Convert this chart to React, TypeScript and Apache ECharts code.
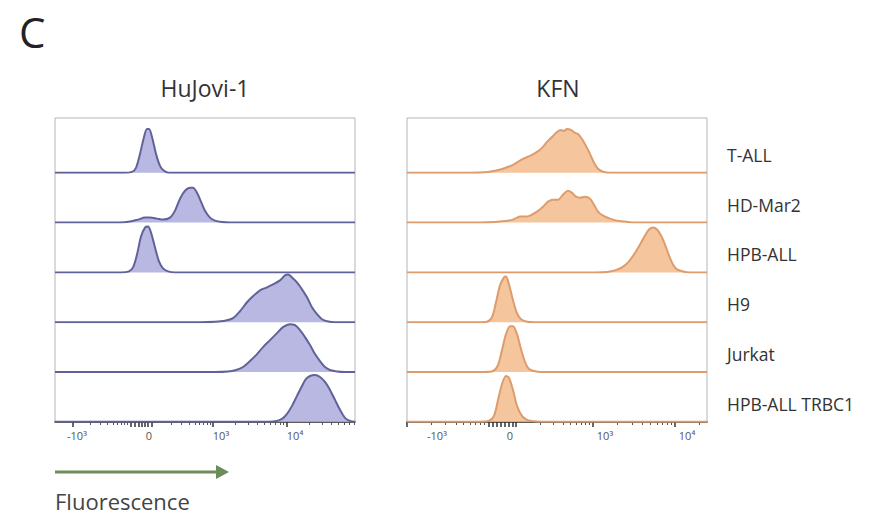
import React, { useEffect, useRef } from 'react';
import * as echarts from 'echarts';

const panelTitles = ['HuJovi-1', 'KFN'];
const rowLabels = ['T-ALL', 'HD-Mar2', 'HPB-ALL', 'H9', 'Jurkat', 'HPB-ALL TRBC1'];
const tickLabels = ['-10³', '0', '10³', '10⁴'];

// display channel units (0–300 across each panel)
const leftLabelPos = [22, 94, 166, 240];
const rightLabelPos = [30, 103, 198, 280];
const leftMajorTicks = [18, 158, 232];
const rightMajorTicks = [0, 186, 268];
const leftZeroTicks = [76, 80, 84, 87, 90, 93, 97];
const rightZeroTicks = [82, 86, 90, 94, 98, 102, 106, 109];
const leftDecades = [[18, 75], [98, 158], [158, 232], [232, 306]];
const rightDecades = [[0, 81], [110, 186], [186, 268], [268, 350]];

// HuJovi-1 histograms [channel, height]
const hjTALL = [[69, 0], [77, 1], [81, 5], [85, 19], [89, 36], [92, 44], [94, 44], [97, 36], [101, 19], [105, 7], [109, 2], [114, 0]];
const hjHDMar2 = [[65, 0], [75, 1], [83, 3], [90, 5], [95, 5], [102, 4], [108, 3], [115, 5], [120, 12], [125, 24], [130, 32], [135, 35], [138, 35], [142, 30], [146, 21], [150, 12], [155, 5], [160, 2], [167, 0.5], [175, 0]];
const hjHPBALL = [[66, 0], [74, 1], [78, 5], [82, 18], [86, 36], [90, 45], [93, 46], [96, 40], [100, 25], [104, 11], [108, 4], [113, 1], [120, 0]];
const hjH9 = [[145, 0], [160, 0.5], [170, 1.5], [178, 4], [185, 11], [192, 20], [199, 27], [205, 32], [212, 35], [218, 38], [225, 42], [230, 47], [233, 48], [237, 45], [242, 40], [247, 33], [252, 25], [257, 15], [262, 8], [267, 3], [272, 1], [280, 0]];
const hjJurkat = [[160, 0], [173, 0.5], [181, 2], [188, 5], [195, 11], [202, 18], [208, 25], [215, 32], [222, 39], [228, 45], [235, 48], [240, 47], [245, 42], [250, 35], [255, 27], [260, 18], [265, 11], [270, 5], [275, 2], [282, 0.5], [290, 0]];
const hjTRBC1 = [[210, 0], [220, 0.5], [227, 3], [232, 8], [237, 16], [242, 26], [247, 36], [251, 43], [255, 46], [260, 47], [265, 45], [270, 40], [275, 32], [280, 22], [285, 12], [290, 4], [295, 1], [300, 0]];

// KFN histograms [channel, height]
const kfTALL = [[63, 0], [78, 0.5], [88, 2], [96, 4], [106, 8], [116, 14], [123, 17], [130, 21], [135, 25], [140, 31], [145, 36], [150, 41], [154, 43], [157, 42], [160, 44], [164, 43], [168, 40], [171, 39], [175, 34], [179, 27], [183, 19], [187, 10], [191, 4], [196, 1], [203, 0]];
const kfHDMar2 = [[73, 0], [88, 0.5], [98, 1.5], [106, 3], [113, 6], [118, 6], [123, 7], [130, 11], [136, 16], [141, 21], [146, 23], [151, 23], [156, 28], [161, 32], [165, 30], [169, 26], [173, 25], [178, 26], [183, 24], [187, 18], [191, 11], [196, 7], [203, 4], [210, 2], [218, 1], [228, 0]];
const kfHPBALL = [[188, 0], [200, 0.5], [208, 2], [215, 5], [221, 10], [227, 18], [233, 28], [238, 37], [242, 43], [246, 45], [250, 43], [254, 37], [258, 28], [262, 17], [266, 8], [270, 3], [276, 1], [283, 0]];
const kfH9 = [[72, 0], [80, 0.5], [85, 5], [89, 20], [93, 37], [97, 45], [99, 46], [102, 38], [106, 22], [110, 9], [114, 3], [120, 0.5], [128, 0]];
const kfJurkat = [[77, 0], [86, 1], [91, 7], [95, 22], [99, 38], [103, 46], [106, 46], [110, 38], [114, 23], [118, 10], [122, 3], [127, 1], [134, 0]];
const kfTRBC1 = [[72, 0], [82, 1], [87, 6], [91, 22], [95, 38], [99, 46], [102, 44], [106, 32], [110, 16], [115, 6], [120, 2], [127, 0.5], [134, 0]];

const hujoviRows = [hjTALL, hjHDMar2, hjHPBALL, hjH9, hjJurkat, hjTRBC1];
const kfnRows = [kfTALL, kfHDMar2, kfHPBALL, kfH9, kfJurkat, kfTRBC1];

const FONT = 'Open Sans';
const panelLeft = [55, 407];
const panelTop = 118;
const panelW = 300;
const panelH = 304;
const rowTop0 = 123;
const rowH = 49.8;
const lineColors = ['#62629a', '#de9c6c'];
const fillColors = ['#b8b8e3', '#f5c59d'];

function decadeTicks(segs: number[][]) {
  const out: number[] = [];
  segs.forEach(([a, b]) => {
    for (let m = 2; m <= 9; m++) {
      const v = a + (b - a) * Math.log10(m);
      if (v >= 0 && v <= 300) out.push(Math.round(v * 10) / 10);
    }
  });
  return out;
}

export default function App() {
  const ref = useRef<HTMLDivElement>(null);
  useEffect(() => {
    if (!ref.current) return;
    const chart = echarts.init(ref.current, undefined, { renderer: 'svg' });
    const grids: any[] = [];
    const xAxes: any[] = [];
    const yAxes: any[] = [];
    const series: any[] = [];
    const labelPos = [leftLabelPos, rightLabelPos];
    const majors = [leftMajorTicks.concat(leftZeroTicks), rightMajorTicks.concat(rightZeroTicks)];
    const minors = [decadeTicks(leftDecades), decadeTicks(rightDecades)];

    for (let p = 0; p < 2; p++) {
      grids.push({ left: panelLeft[p], top: panelTop, width: panelW, height: panelH, show: true, borderColor: '#b5b5b5', borderWidth: 1, backgroundColor: 'transparent' });
    }
    for (let p = 0; p < 2; p++) {
      const lp = labelPos[p];
      xAxes.push({
        gridIndex: p, type: 'value', min: 0, max: 300, position: 'bottom',
        axisLine: { show: true, lineStyle: { color: '#333', width: 1.5 } },
        axisTick: { show: true, customValues: majors[p], length: 5, lineStyle: { color: '#333', width: 1.5 } },
        axisLabel: { show: true, customValues: lp, margin: 8, fontSize: 11, color: '#555', fontFamily: FONT, formatter: (v: number) => tickLabels[lp.indexOf(v)] ?? '' },
        splitLine: { show: false },
      });
      xAxes.push({
        gridIndex: p, type: 'value', min: 0, max: 300, position: 'bottom',
        axisLine: { show: false },
        axisTick: { show: true, customValues: minors[p], length: 3, lineStyle: { color: '#555', width: 1 } },
        axisLabel: { show: false },
        splitLine: { show: false },
      });
      yAxes.push({ gridIndex: p, type: 'value', min: 0, max: 1, show: false });
    }
    const rowsByPanel = [hujoviRows, kfnRows];
    for (let p = 0; p < 2; p++) {
      for (let r = 0; r < 6; r++) {
        const gi = grids.length;
        grids.push({ left: panelLeft[p], top: rowTop0 + r * rowH, width: panelW, height: rowH });
        const xi = xAxes.length;
        xAxes.push({ gridIndex: gi, type: 'value', min: 0, max: 300, show: false });
        const yi = yAxes.length;
        yAxes.push({ gridIndex: gi, type: 'value', min: 0, max: 50, show: false });
        const pts = rowsByPanel[p][r];
        series.push({
          type: 'line', xAxisIndex: xi, yAxisIndex: yi,
          data: [[0, 0], ...pts, [300, 0]],
          smooth: 0.3, symbol: 'none', showSymbol: false, silent: true,
          lineStyle: { color: lineColors[p], width: 2 },
          areaStyle: { color: fillColors[p], opacity: 1 },
        });
      }
    }

    const graphics: any[] = [
      { type: 'text', x: 19, y: 31, style: { text: 'C', fontSize: 42, fontFamily: FONT, fill: '#222', verticalAlign: 'middle' } },
      { type: 'text', x: 205, y: 88, style: { text: panelTitles[0], fontSize: 23, fontFamily: FONT, fill: '#333', align: 'center', verticalAlign: 'middle' } },
      { type: 'text', x: 558, y: 88, style: { text: panelTitles[1], fontSize: 23, fontFamily: FONT, fill: '#333', align: 'center', verticalAlign: 'middle' } },
      { type: 'line', shape: { x1: 55, y1: 472, x2: 220, y2: 472 }, style: { stroke: '#6e8c5a', lineWidth: 3 } },
      { type: 'polygon', shape: { points: [[216, 465], [229, 472], [216, 479]] }, style: { fill: '#6e8c5a' } },
      { type: 'text', x: 55, y: 501, style: { text: 'Fluorescence', fontSize: 22, fontFamily: FONT, fill: '#444', verticalAlign: 'middle' } },
    ];
    rowLabels.forEach((t, r) => {
      graphics.push({ type: 'text', x: 727, y: rowTop0 + (r + 1) * rowH - 18, style: { text: t, fontSize: 17.5, fontFamily: FONT, fill: '#333', verticalAlign: 'middle' } });
    });

    chart.setOption({
      animation: false,
      backgroundColor: '#fff',
      grid: grids,
      xAxis: xAxes,
      yAxis: yAxes,
      series,
      graphic: graphics,
    });
    return () => chart.dispose();
  }, []);
  return <div ref={ref} style={{ width: 891, height: 515, position: 'absolute', left: 0, top: 0 }} />;
}
